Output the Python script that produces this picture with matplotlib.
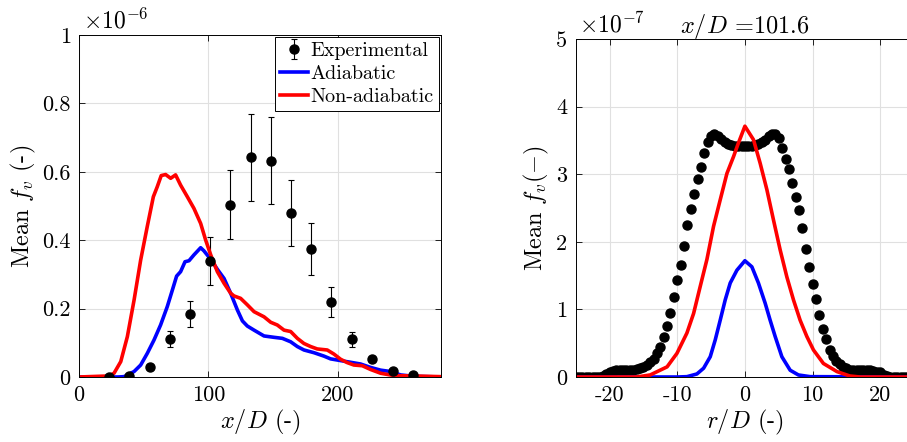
import matplotlib
matplotlib.use('Agg')
import matplotlib.pyplot as plt
from matplotlib.ticker import FuncFormatter

# ---- datos: panel izquierdo (fv medio a lo largo del eje, unidades 1e-6) ----
x_exp = [23.4, 39.0, 54.8, 70.6, 86.0, 101.2, 117.1, 132.8, 148.5, 164.0, 179.7, 195.1, 210.8, 226.5, 242.5, 258.0]
fv_exp = [0.0, 0.004, 0.028, 0.112, 0.184, 0.339, 0.504, 0.642, 0.632, 0.480, 0.374, 0.218, 0.110, 0.052, 0.018, 0.007]
fv_err = [0.001, 0.002, 0.006, 0.023, 0.037, 0.069, 0.100, 0.128, 0.127, 0.097, 0.076, 0.044, 0.022, 0.008, 0.004, 0.002]

x_adi = [0, 20, 30, 34.8, 42.6, 47.7, 52.8, 58.0, 63.1, 68.3, 72.2, 75.5, 78.6, 82.0, 85.1, 88.9, 94.1, 96.6,
         101.9, 107.0, 112.2, 117.3, 122.5, 126.4, 130.2, 135.4, 143.1, 150.9, 157.3, 163.7, 168.9, 174.0,
         181.8, 189.5, 194.6, 202.3, 210.1, 217.8, 225.5, 233.3, 241.0, 248.8, 259.0, 280]
fv_adi = [0.0, 0.0, 0.0, 0.001, 0.016, 0.035, 0.069, 0.108, 0.152, 0.206, 0.254, 0.295, 0.308, 0.337, 0.340,
          0.357, 0.378, 0.369, 0.344, 0.315, 0.288, 0.245, 0.196, 0.164, 0.149, 0.137, 0.120, 0.116, 0.113,
          0.103, 0.089, 0.079, 0.071, 0.061, 0.053, 0.048, 0.043, 0.038, 0.028, 0.020, 0.016, 0.006, 0.002, 0.0]

x_noadi = [0, 15, 23, 27.1, 32.3, 37.4, 42.6, 47.7, 52.8, 57.5, 60.5, 63.6, 67.0, 70.9, 74.7, 78.6, 83.8, 88.9,
           94.1, 98.0, 101.9, 107.0, 112.2, 117.3, 119.9, 125.0, 130.2, 135.4, 143.1, 148.3, 153.4, 158.6,
           163.7, 168.9, 174.0, 179.2, 184.3, 192.0, 197.2, 202.3, 207.5, 212.6, 219.1, 225.5, 233.3, 243.6,
           259.0, 280]
fv_noadi = [0.0, 0.002, 0.003, 0.011, 0.045, 0.118, 0.225, 0.342, 0.440, 0.527, 0.556, 0.589, 0.592, 0.581,
            0.591, 0.561, 0.527, 0.493, 0.449, 0.400, 0.357, 0.308, 0.274, 0.245, 0.237, 0.230, 0.211, 0.191,
            0.176, 0.160, 0.152, 0.137, 0.133, 0.113, 0.098, 0.089, 0.082, 0.079, 0.067, 0.052, 0.042, 0.035,
            0.033, 0.022, 0.011, 0.004, 0.003, 0.001]

# ---- datos: panel derecho (perfil radial en x/D = 101.6, unidades 1e-7) ----
r_exp = [-25.0, -24.5, -24.0, -23.5, -23.0, -22.5, -22.0, -21.5, -21.0, -20.5, -20.0, -19.5, -19.0, -18.5,
         -18.0, -17.5, -17.0, -16.5, -16.0, -15.5, -15.0, -14.5, -14.0, -13.5, -13.0, -12.5, -12.0, -11.5,
         -11.0, -10.5, -10.0, -9.5, -9.0, -8.5, -8.0, -7.5, -7.0, -6.5, -6.0, -5.5, -5.0, -4.5, -4.0, -3.5,
         -3.0, -2.5, -2.0, -1.5, -1.0, -0.5, 0.0, 0.5, 1.0, 1.5, 2.0, 2.5, 3.0, 3.5, 4.0, 4.5, 5.0, 5.5, 6.0,
         6.5, 7.0, 7.5, 8.0, 8.5, 9.0, 9.5, 10.0, 10.5, 11.0, 11.5, 12.0, 12.5, 13.0, 13.5, 14.0, 14.5, 15.0,
         15.5, 16.0, 16.5, 17.0, 17.5, 18.0, 18.5, 19.0, 19.5, 20.0, 20.5, 21.0, 21.5, 22.0, 22.5, 23.0, 23.5,
         24.0, 24.5, 25.0]
fvr_exp = [0.0, 0.0, 0.0, 0.0, 0.0, 0.0, 0.0, 0.0, 0.01, 0.05, 0.08, 0.09, 0.10, 0.10,
           0.10, 0.10, 0.11, 0.11, 0.12, 0.13, 0.15, 0.18, 0.22, 0.27, 0.35, 0.45, 0.59, 0.76,
           0.94, 1.18, 1.44, 1.66, 1.94, 2.25, 2.49, 2.71, 2.93, 3.11, 3.32, 3.48, 3.57, 3.60, 3.57, 3.52,
           3.48, 3.45, 3.43, 3.42, 3.42, 3.42, 3.42, 3.42, 3.42, 3.43, 3.44, 3.47, 3.51, 3.56, 3.59, 3.59, 3.53, 3.39, 3.23,
           3.07, 2.87, 2.66, 2.47, 2.21, 1.90, 1.63, 1.37, 1.15, 0.91, 0.71, 0.56, 0.40, 0.31, 0.24, 0.19, 0.15, 0.13,
           0.11, 0.11, 0.10, 0.10, 0.10, 0.10, 0.10, 0.09, 0.08, 0.07, 0.03, 0.01, 0.0, 0.0, 0.0, 0.0, 0.0,
           0.0, 0.0, 0.0]

r_adi = [-25, -10, -8.56, -7.09, -6.1, -5.12, -4.38, -3.65, -2.91, -2.17, -1.18, 0.0,
         1.03, 2.0, 3.0, 3.73, 4.47, 5.46, 6.69, 7.91, 9.64, 25]
fvr_adi = [0.0, 0.0, 0.005, 0.045, 0.13, 0.30, 0.55, 0.84, 1.14, 1.39, 1.58, 1.72,
           1.63, 1.39, 1.09, 0.84, 0.60, 0.30, 0.10, 0.03, 0.005, 0.0]

r_noadi = [-25, -16.0, -14.0, -11.5, -10.04, -8.57, -7.58, -6.6, -5.61, -4.63, -3.65, -2.66, -1.68, -1.0, 0.0,
           1.27, 2.26, 3.25, 4.23, 5.21, 6.2, 7.18, 8.16, 9.15, 10.13, 11.6, 13.6, 15.5, 17.0, 25]
fvr_noadi = [0.0, 0.0, 0.03, 0.15, 0.35, 0.65, 0.94, 1.34, 1.74, 2.23, 2.62, 3.01, 3.26, 3.45, 3.71,
             3.51, 3.16, 2.77, 2.32, 1.88, 1.48, 1.14, 0.84, 0.60, 0.40, 0.20, 0.08, 0.015, 0.0, 0.0]

plt.rcParams['font.family'] = 'serif'
plt.rcParams['font.serif'] = ['cmr10']
plt.rcParams['mathtext.fontset'] = 'cm'
plt.rcParams['axes.unicode_minus'] = False

fig = plt.figure(figsize=(9.07, 4.42), dpi=100)
ax1 = fig.add_axes([79 / 907, 65 / 442, 362 / 907, 342 / 442])
ax2 = fig.add_axes([575.7 / 907, 65 / 442, 338.4 / 907, 338 / 442])

fmt = FuncFormatter(lambda v, p: '%g' % v)


def estilo(ax):
    ax.grid(True, color='#e0e0e0', linewidth=0.8)
    ax.set_axisbelow(True)
    ax.tick_params(direction='in', top=True, right=True, labelsize=16, length=4, width=0.6, pad=6)
    for s in ax.spines.values():
        s.set_linewidth(0.7)
    ax.xaxis.set_major_formatter(fmt)
    ax.yaxis.set_major_formatter(fmt)


# Panel izquierdo
h_exp = ax1.errorbar(x_exp, fv_exp, yerr=fv_err, fmt='o', color='k', markersize=6.5, capsize=2.5,
                     elinewidth=0.8, capthick=0.8, label='Experimental')
h_adi, = ax1.plot(x_adi, fv_adi, color='#0000ff', linewidth=2.6, label='Adiabatic')
h_noadi, = ax1.plot(x_noadi, fv_noadi, color='#ff0000', linewidth=2.6, label='Non-adiabatic')
ax1.set_xlim(0, 280)
ax1.set_ylim(0, 1)
ax1.set_xticks([0, 100, 200])
ax1.set_yticks([0, 0.2, 0.4, 0.6, 0.8, 1])
estilo(ax1)
ax1.set_xlabel(r'$x/D$ (-)', fontsize=17.5, labelpad=2)
ax1.set_ylabel(r'Mean $f_v$ (-)', fontsize=17.5, labelpad=3)
ax1.text(0.01, 1.005, r'$\times10^{-6}$', transform=ax1.transAxes, fontsize=17, ha='left', va='bottom')
leg = ax1.legend([h_exp, h_adi, h_noadi], ['Experimental', 'Adiabatic', 'Non-adiabatic'],
                 loc='upper right', fontsize=14.5, frameon=True, fancybox=False, borderpad=0.25,
                 handlelength=1.4, handletextpad=0.15, labelspacing=0.25, borderaxespad=0.1)
leg.get_frame().set_edgecolor('k')
leg.get_frame().set_linewidth(0.7)
leg.get_frame().set_alpha(1)

# Panel derecho
ax2.plot(r_exp, fvr_exp, 'o', color='k', markersize=6.5)
ax2.plot(r_adi, fvr_adi, color='#0000ff', linewidth=2.6)
ax2.plot(r_noadi, fvr_noadi, color='#ff0000', linewidth=2.6)
ax2.set_xlim(-25, 25)
ax2.set_ylim(0, 5)
ax2.set_xticks([-20, -10, 0, 10, 20])
ax2.set_yticks([0, 1, 2, 3, 4, 5])
estilo(ax2)
ax2.set_xlabel(r'$r/D$ (-)', fontsize=17.5, labelpad=2)
ax2.set_ylabel(r'Mean $f_v(-)$', fontsize=17.5, labelpad=4)
ax2.set_title(r'$x/D$ =101.6', fontsize=17.5, pad=4)
ax2.text(0.01, 1.005, r'$\times10^{-7}$', transform=ax2.transAxes, fontsize=17, ha='left', va='bottom')

fig.savefig('out.png', dpi=100)
